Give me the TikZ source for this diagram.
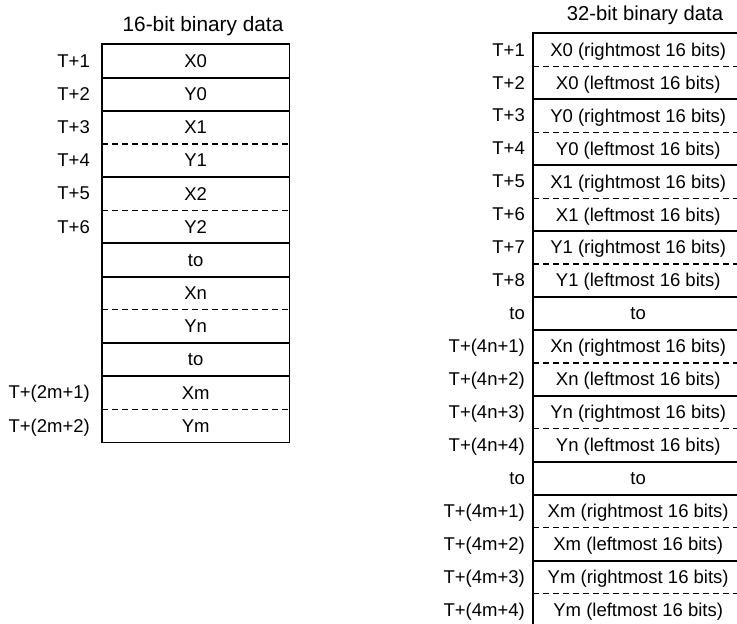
\documentclass[tikz,border=0pt]{standalone}
\usepackage{fontspec}
\setmainfont{Liberation Sans}
\begin{document}
\begin{tikzpicture}[x=1pt,y=-1pt,
  txt/.style={font=\fontsize{18.5}{22}\selectfont, inner sep=0pt, text height=13.2pt, text depth=0pt},
  lcell/.style={txt, minimum width=187pt, minimum height=33.17pt, anchor=north west},
  rcell/.style={txt, minimum width=210pt, minimum height=32.95pt, anchor=north west},
  lab/.style={txt, anchor=east},
  ttl/.style={inner sep=0pt, anchor=base},
  solidsep/.style={line width=2pt},
  dashsep/.style={line width=1.2pt, dash pattern=on 6pt off 4pt},
  border/.style={line width=1.6pt}
]
\useasboundingbox (0,0) rectangle (737,624);
\clip (0,0) rectangle (737,624);

% ---------------- left table: 16-bit ----------------
\node[ttl, font=\fontsize{20.8}{24}\selectfont] (ltitle) at (203,31.5) {16-bit binary data};
\foreach \i/\t in {1/X0,2/Y0,3/X1,4/Y1,5/X2,6/Y2,7/to,8/Xn,9/Yn,10/to,11/Xm,12/Ym}{
  \node[lcell] (c\i) at (102,{44+33.17*(\i-1)}) {\t};
}
\foreach \i/\t in {1/T+1,2/T+2,3/T+3,4/T+4,5/T+5,6/T+6,11/T+(2m+1),12/T+(2m+2)}{
  \node[lab] (l\i) at (90,{44+33.17*(\i-0.5)}) {\t};
}
\foreach \i in {1,2,4,6,7,9,10}{
  \draw[solidsep] (c\i.south west) -- (c\i.south east);
}
\foreach \i in {3,5,8,11}{
  \draw[dashsep] (c\i.south west) -- (c\i.south east);
}
\draw[border] (c1.north west) rectangle (c12.south east);

% ---------------- right table: 32-bit ----------------
\node[ttl, font=\fontsize{20.2}{24}\selectfont] (rtitle) at (645,20) {32-bit binary data};
\foreach \i/\t in {
  1/X0 (rightmost 16 bits),2/X0 (leftmost 16 bits),
  3/Y0 (rightmost 16 bits),4/Y0 (leftmost 16 bits),
  5/X1 (rightmost 16 bits),6/X1 (leftmost 16 bits),
  7/Y1 (rightmost 16 bits),8/Y1 (leftmost 16 bits),
  9/to,
  10/Xn (rightmost 16 bits),11/Xn (leftmost 16 bits),
  12/Yn (rightmost 16 bits),13/Yn (leftmost 16 bits),
  14/to,
  15/Xm (rightmost 16 bits),16/Xm (leftmost 16 bits),
  17/Ym (rightmost 16 bits),18/Ym (leftmost 16 bits)}{
  \node[rcell] (d\i) at (533,{33+32.95*(\i-1)}) {\t};
}
\foreach \i/\t in {1/T+1,2/T+2,3/T+3,4/T+4,5/T+5,6/T+6,7/T+7,8/T+8,9/to,
  10/T+(4n+1),11/T+(4n+2),12/T+(4n+3),13/T+(4n+4),14/to,
  15/T+(4m+1),16/T+(4m+2),17/T+(4m+3),18/T+(4m+4)}{
  \node[lab] (r\i) at (525,{33+32.95*(\i-0.5)}) {\t};
}
\foreach \i in {2,4,6,8,9,11,13,14,16}{
  \draw[solidsep] (d\i.south west) -- (d\i.south east);
}
\foreach \i in {1,3,5,7,10,12,15,17}{
  \draw[dashsep] (d\i.south west) -- (d\i.south east);
}
\draw[border] (d1.north west) rectangle (d18.south east);
\end{tikzpicture}
\end{document}
